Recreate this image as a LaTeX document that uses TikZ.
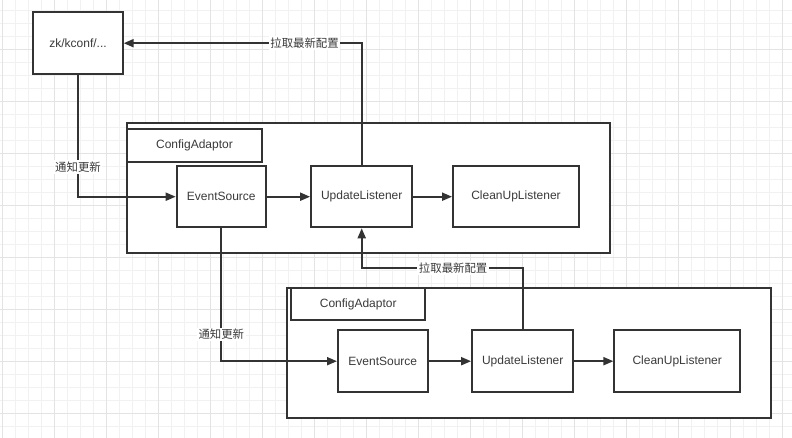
\documentclass[tikz,border=0pt]{standalone}
\usepackage{fontspec}
\setmainfont{Liberation Sans}
\newfontfamily\cjk{Noto Sans CJK SC}
\usetikzlibrary{arrows.meta}
\definecolor{ink}{HTML}{333333}
\definecolor{txt}{HTML}{3A3A3A}
\definecolor{gridminor}{HTML}{F1F1F1}
\definecolor{gridmajor}{HTML}{E3E3E3}
\begin{document}
\begin{tikzpicture}[x=1pt,y=-1pt,
  box/.style={draw=ink, line width=1.9pt, fill=white, inner sep=0pt,
    font=\fontsize{12}{14}\selectfont, text=txt},
  conn/.style={draw=ink, line width=1.9pt, -{Triangle[length=10pt,width=8pt]}},
  lbl/.style={fill=white, text=txt, font=\cjk\fontsize{11.4}{13}\selectfont, inner sep=1.5pt}]
\fill[white] (0,0) rectangle (792,438);
\useasboundingbox (0,0) rectangle (792,438);
% grid
\foreach \x in {2.7,15.7,...,792} \draw[gridminor, line width=0.8pt] (\x,0) -- (\x,438);
\foreach \y in {10.3,23.3,...,438} \draw[gridminor, line width=0.8pt] (0,\y) -- (792,\y);
\foreach \x in {2.7,54.7,...,792} \draw[gridmajor, line width=0.8pt] (\x,0) -- (\x,438);
\foreach \y in {49.3,101.3,...,438} \draw[gridmajor, line width=0.8pt] (0,\y) -- (792,\y);

% top-left source
\node[box, minimum width=89.4pt, minimum height=61.7pt] (zk) at (78,43.2) {zk/kconf/...};

% adaptor 1
\node[box, minimum width=482.7pt, minimum height=130pt] (outerA) at (368.7,188.3) {};
\node[box, minimum width=134.4pt, minimum height=33pt] (caA) at (194.5,145.8) {ConfigAdaptor};
\node[box, minimum width=89.3pt, minimum height=61.3pt] (esA) at (221.3,196.7) {EventSource};
\node[box, minimum width=101.3pt, minimum height=61.3pt] (ulA) at (361.7,196.7) {UpdateListener};
\node[box, minimum width=126pt, minimum height=61.3pt] (cuA) at (516,196.7) {CleanUpListener};

% adaptor 2
\node[box, minimum width=483.4pt, minimum height=130.6pt] (outerB) at (529,353) {};
\node[box, minimum width=133.7pt, minimum height=31.7pt] (caB) at (358.2,304.2) {ConfigAdaptor};
\node[box, minimum width=89.7pt, minimum height=62.3pt] (esB) at (382.8,361.2) {EventSource};
\node[box, minimum width=101.3pt, minimum height=62.3pt] (ulB) at (522.7,361.2) {UpdateListener};
\node[box, minimum width=125.7pt, minimum height=62.3pt] (cuB) at (677.2,361.2) {CleanUpListener};

% connectors
\draw[conn] (zk.south) |- (esA.west) node[lbl, pos=0.378] {通知更新};
\draw[conn] (esA) -- (ulA);
\draw[conn] (ulA) -- (cuA);
\draw[conn] (ulA.north) |- (zk.east) node[lbl, pos=0.62] {拉取最新配置};

\draw[conn] (esA.south) |- (esB.west) node[lbl, pos=0.40] {通知更新};
\draw[conn] (esB) -- (ulB);
\draw[conn] (ulB) -- (cuB);
\draw[conn] (ulB.north) -- ++(0,-61) coordinate (pullturn) -| (ulA.south)
  node[lbl, pos=0.216] {拉取最新配置};
\end{tikzpicture}
\end{document}
